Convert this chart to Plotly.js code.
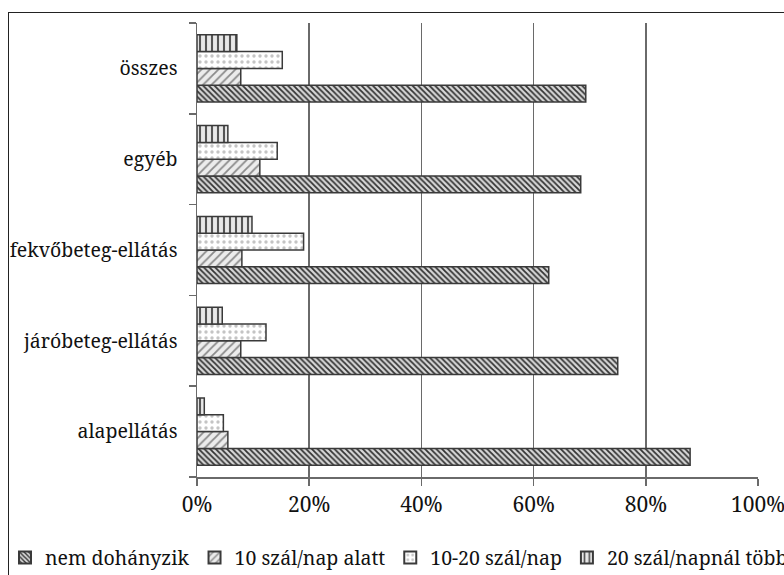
<!DOCTYPE html>
<html>
<head>
<meta charset="utf-8">
<script src="https://cdn.plot.ly/plotly-3.0.1.min.js"></script>
<style>
html,body{margin:0;padding:0;overflow:hidden;background:#fff;width:784px;height:575px;position:relative;}
#chart{position:absolute;left:-290px;top:13px;width:1300px;height:590px;}
#frame{position:absolute;left:8px;top:12px;width:900px;height:700px;border:1.5px solid #222;pointer-events:none;z-index:10;background:transparent;}
#chart svg text{font-family:'Noto Serif','Liberation Serif',serif !important;}
</style>
</head>
<body>
<div id="chart"></div>
<div id="frame"></div>
<script>
const categories = ["alapellátás", "járóbeteg-ellátás", "fekvőbeteg-ellátás", "egyéb", "összes"];
const seriesNames = ["nem dohányzik", "10 szál/nap alatt", "10-20 szál/nap", "20 szál/napnál többet"];
const nemDohanyzik = [87.9, 75.0, 62.7, 68.4, 69.3];
const alatt10 = [5.5, 7.8, 8.0, 11.2, 7.8];
const kozott10_20 = [4.7, 12.3, 19.0, 14.3, 15.2];
const tobb20 = [1.3, 4.5, 9.8, 5.5, 7.1];
const tickVals = [0, 20, 40, 60, 80, 100];
const tickText = ["0%", "20%", "40%", "60%", "80%", "100%"];

const FONT = "Noto Serif, Liberation Serif, serif";
const values = [nemDohanyzik, alatt10, kozott10_20, tobb20];
const patterns = [
  {shape: "\\", fgcolor: "#333", bgcolor: "#d8d8d8", size: 4, solidity: 0.45},
  {shape: "/", fgcolor: "#8a8a8a", bgcolor: "#ececec", size: 6, solidity: 0.3},
  {shape: ".", fgcolor: "#c4c4c4", bgcolor: "#ffffff", size: 6, solidity: 0.25},
  {shape: "|", fgcolor: "#555", bgcolor: "#e8e8e8", size: 6, solidity: 0.35}
];
const traces = values.map((v, i) => ({
  type: "bar",
  orientation: "h",
  name: seriesNames[i],
  y: categories,
  x: v,
  marker: {color: patterns[i].bgcolor, pattern: patterns[i], line: {color: "#3a3a3a", width: 1.5}},
  hoverinfo: "x+name"
}));

const layout = {
  width: 1300, height: 590,
  margin: {l: 487, r: 252, t: 9.5, b: 125.5, autoexpand: false},
  paper_bgcolor: "rgba(0,0,0,0)", plot_bgcolor: "rgba(0,0,0,0)",
  font: {family: FONT, size: 20, color: "#111"},
  barmode: "group",
  bargap: 0.26,
  bargroupgap: 0,
  showlegend: true,
  legend: {orientation: "h", x: -0.3422, xanchor: "left", y: -0.135, yanchor: "top",
           bgcolor: "rgba(0,0,0,0)",
           font: {family: FONT, size: 19.5, color: "#111"}, traceorder: "normal",
           itemwidth: 30, tracegroupgap: 0, itemsizing: "constant"},
  xaxis: {range: [0, 100], tickvals: tickVals, ticktext: tickText, showgrid: true,
          gridcolor: "#6a6a6a", gridwidth: 1.5, zeroline: false, showline: true,
          linecolor: "#6a6a6a", linewidth: 1.5, ticks: "outside", ticklen: 7,
          tickcolor: "#6a6a6a", tickwidth: 1.5, ticklabelstandoff: 1,
          tickfont: {family: FONT, size: 21}, fixedrange: true},
  yaxis: {type: "category", categoryorder: "array", categoryarray: categories,
          showline: true, linecolor: "#6a6a6a", linewidth: 1.5, ticks: "outside",
          tickson: "boundaries", ticklen: 7, tickcolor: "#6a6a6a", tickwidth: 1.5,
          ticklabelstandoff: 14,
          showgrid: false, tickfont: {family: FONT, size: 19.5}, fixedrange: true}
};
Plotly.newPlot("chart", traces, layout, {displayModeBar: false, staticPlot: true});
</script>
</body>
</html>
